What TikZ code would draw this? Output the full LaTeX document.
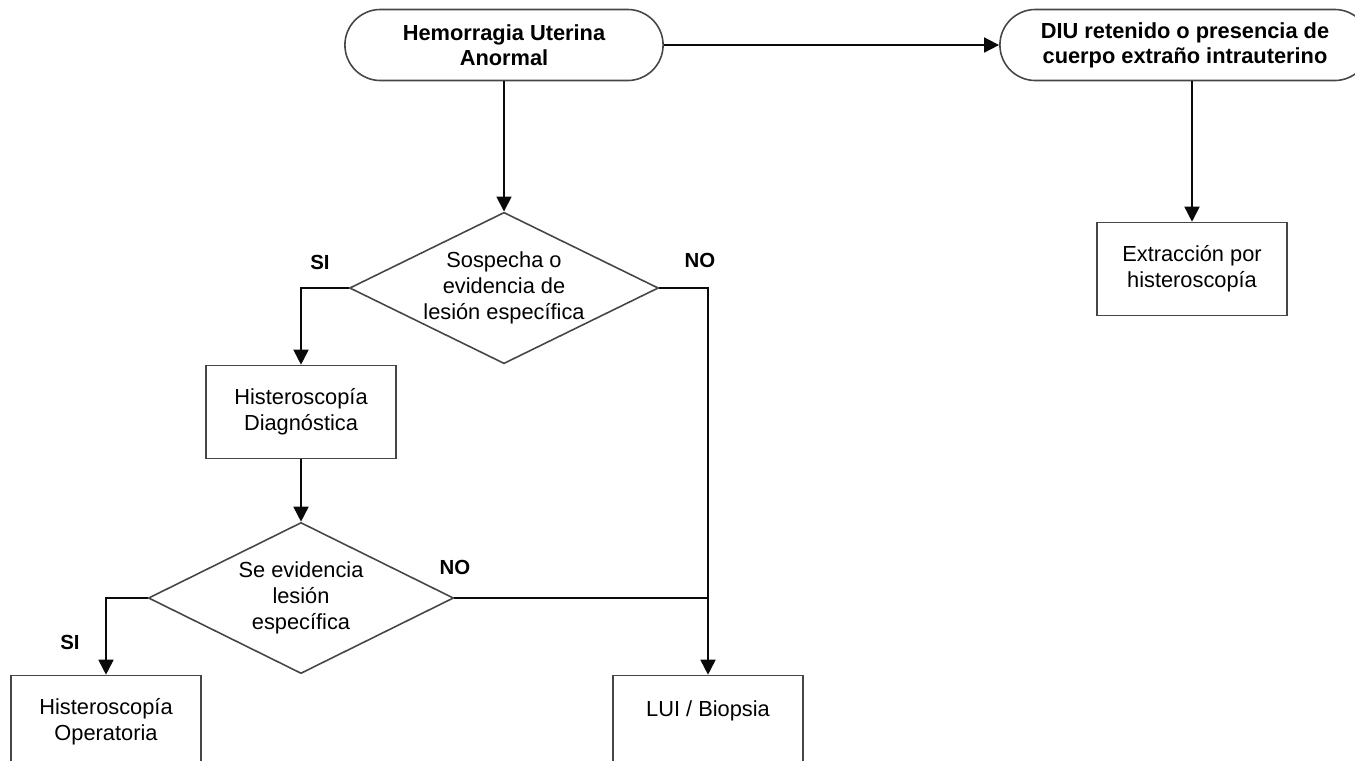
\documentclass[tikz,border=0pt]{standalone}
\usepackage{fontspec}
\setmainfont{Liberation Sans}
\usetikzlibrary{shapes.geometric,arrows.meta}

\definecolor{shapeline}{RGB}{70,70,70}
\definecolor{flowline}{RGB}{10,10,10}
\tikzset{
  flow terminal/.style={rectangle,rounded corners=0.355cm,draw=shapeline,line width=0.45pt,
    minimum width=3.18cm,minimum height=0.71cm,inner sep=0pt,align=center,font=\fontsize{6.2}{7.1}\selectfont\bfseries},
  flow box/.style={rectangle,draw=shapeline,line width=0.45pt,minimum width=1.9cm,minimum height=0.93cm,
    inner sep=0pt,align=center},
  flow decision/.style={diamond,draw=shapeline,line width=0.45pt,aspect=2.04,inner sep=0pt,
    minimum width=3.08cm,minimum height=1.51cm,align=center},
  flow arrow/.style={-{Triangle[length=0.15cm,width=0.15cm]},line width=0.5pt,draw=flowline},
  flow join/.style={line width=0.5pt,draw=flowline},
  flow label/.style={font=\fontsize{5.8}{6.5}\selectfont\bfseries,inner sep=0pt}
}

\begin{document}
\begin{tikzpicture}[x=0.01cm,y=-0.01cm,font=\fontsize{6.2}{7.4}\selectfont]
  \useasboundingbox (0,0) rectangle (1355,760);
  % top row
  \node[flow terminal] (hua) at (504,45) {Hemorragia Uterina\\Anormal};
  \node[flow terminal,minimum width=3.7cm] (diu) at (1185,45) {DIU retenido o presencia de\\cuerpo extraño intrauterino};
  \node[flow box] (ext) at (1192,269) {Extracción por\\histeroscopía};
  % first decision
  \node[flow decision] (sosp) at (504,288) {Sospecha o\\evidencia de\\lesión específica};
  \node[flow label] (sosp si) at (320,262) {SI};
  \node[flow label] (sosp no) at (700,260) {NO};
  \node[flow box] (hdiag) at (301,412) {Histeroscopía\\Diagnóstica};
  % second decision
  \node[flow decision,minimum width=3.05cm] (evid) at (301,598) {Se evidencia\\lesión\\específica};
  \node[flow label] (evid no) at (455,567) {NO};
  \node[flow label] (evid si) at (70,642) {SI};
  \node[flow box] (hoper) at (106,722) {Histeroscopía\\Operatoria};
  \node[flow box] (lui) at (708,722) {LUI / Biopsia\\~};

  \draw[flow arrow] (hua.east) -- (diu.west);
  \draw[flow arrow] (ext.north |- diu.south) -- (ext.north);
  \draw[flow arrow] (hua.south) -- (sosp.north);
  \draw[flow arrow] (sosp.west) -| (hdiag.north);
  \draw[flow arrow] (sosp.east) -| (lui.north);
  \draw[flow arrow] (hdiag.south) -- (evid.north);
  \draw[flow arrow] (evid.west) -| (hoper.north);
  \draw[flow join] (evid.east) -- (evid.east -| lui.north);
\end{tikzpicture}
\end{document}
